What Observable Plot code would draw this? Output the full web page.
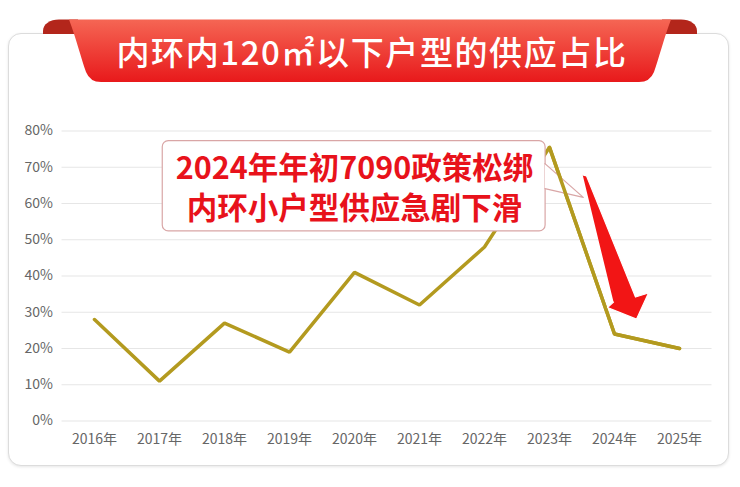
<!DOCTYPE html>
<html><head><meta charset="utf-8">
<script src="https://cdn.jsdelivr.net/npm/d3@7"></script>
<script src="https://cdn.jsdelivr.net/npm/@observablehq/plot@0.6"></script>
<style>
html,body{margin:0;padding:0;background:#fff;}
#wrap{position:relative;width:740px;height:487px;overflow:hidden;font-family:'Noto Sans CJK SC',sans-serif;}
#card{position:absolute;left:8px;top:33px;width:721px;height:433px;border:1.5px solid #dcdcdc;border-radius:13px;box-shadow:0 1px 3px rgba(0,0,0,0.10);background:#fff;box-sizing:border-box;}
#ribbon{position:absolute;left:0;top:0;}
#chart{position:absolute;left:0;top:0;}
</style></head><body>
<div id="wrap">
<div id="card"></div>
<div id="chart"></div>
<svg id="ribbon" width="740" height="100">
<defs><linearGradient id="rg" x1="0" y1="0" x2="0" y2="1"><stop offset="0" stop-color="#f56654"/><stop offset="1" stop-color="#e8191b"/></linearGradient></defs>
<path d="M43,34 L43,31 C43,24 50,19.5 59,19.5 L78,19.5 L78,34 Z" fill="#b3261b"/>
<path d="M697,34 L697,31 C697,24 690,19.5 681,19.5 L662,19.5 L662,34 Z" fill="#b3261b"/>
<path d="M69,19.5 L671,19.5 C664,38 659,58 654,72 Q650,82 639,82 L101,82 Q90,82 86,72 C81,58 76,38 69,19.5 Z" fill="url(#rg)"/>
<text id="title" x="372" y="51" dominant-baseline="central" text-anchor="middle" fill="#fff" font-size="33" font-weight="500" letter-spacing="1.6" style="font-family:'Noto Sans CJK SC',sans-serif">内环内120㎡以下户型的供应占比</text>
</svg>
</div>
<script>
// ---- data ----
const years = [2016, 2017, 2018, 2019, 2020, 2021, 2022, 2023, 2024, 2025];
const shares = [0.28, 0.11, 0.27, 0.19, 0.41, 0.32, 0.48, 0.755, 0.24, 0.20];
const yTicks = [0, 0.1, 0.2, 0.3, 0.4, 0.5, 0.6, 0.7, 0.8];
const xTickLabels = years.map(y => `${y}年`);

// annotation (in data units: year, share)
const noteText = "2024年年初7090政策松绑\n内环小户型供应急剧下滑";
const noteX = 2020.0;
const noteY = 0.648;
const noteBoxX = [2017.05, 2022.94];
const noteBoxY = [0.523, 0.772];
const calloutX = [2022.93, 2023.52, 2022.93];
const calloutY = [0.710, 0.617, 0.641];
const arrowX = [2023.51, 2023.57, 2024.323, 2024.523, 2024.338, 2023.892, 2023.985];
const arrowY = [0.679, 0.676, 0.342, 0.353, 0.281, 0.313, 0.328];

const data = years.map((year, i) => ({year, share: shares[i]}));
const lastPart = data.filter(d => d.year >= 2023);
const callout = calloutX.map((x, i) => ({x, y: calloutY[i]}));
const arrow = arrowX.map((x, i) => ({x, y: arrowY[i]}));

const lineColor = "#b39a1f";

const plot = Plot.plot({
  width: 740,
  height: 487,
  marginLeft: 61.5,
  marginRight: 28.5,
  marginTop: 130.5,
  marginBottom: 66.5,
  style: {background: "transparent", fontFamily: "'Noto Sans CJK SC', sans-serif", fontSize: "14px", color: "#666"},
  x: {type: "linear", domain: [2015.5, 2025.5]},
  y: {domain: [0, 0.8]},
  marks: [
    Plot.gridY(yTicks, {stroke: "#e6e6e6", strokeOpacity: 1, strokeWidth: 1.2}),
    Plot.axisY(yTicks, {tickSize: 0, tickPadding: 9, tickFormat: d3.format(".0%"), label: null, fill: "#666", fontSize: 14}),
    Plot.axisX(years, {tickSize: 0, tickPadding: 13, tickFormat: d => xTickLabels[years.indexOf(d)], label: null, fill: "#666", fontSize: 14}),
    Plot.line(data, {x: "year", y: "share", stroke: lineColor, strokeWidth: 3.5, strokeLinejoin: "miter", curve: "linear"}),
    Plot.rect([{}], {x1: noteBoxX[0], x2: noteBoxX[1], y1: noteBoxY[0], y2: noteBoxY[1], fill: "#fff", stroke: "#d9a6a6", strokeWidth: 1.2, rx: 6}),
    Plot.line(callout, {x: "x", y: "y", fill: "#fff", stroke: "#d9a6a6", strokeWidth: 1.2}),
    Plot.line(lastPart, {x: "year", y: "share", stroke: lineColor, strokeWidth: 3.5, strokeLinecap: "round", strokeLinejoin: "round"}),
    Plot.line(arrow, {x: "x", y: "y", fill: "#f21515", stroke: "#fff", strokeWidth: 1.2}),
    Plot.text([noteText], {x: () => noteX, y: () => noteY, text: d => d, fill: "#e8121b", fontSize: 30.5, fontWeight: "bold", fontFamily: "'Noto Sans CJK SC', sans-serif", lineAnchor: "middle", lineHeight: 1.31})
  ]
});
document.getElementById("chart").appendChild(plot);
</script>
</body></html>
